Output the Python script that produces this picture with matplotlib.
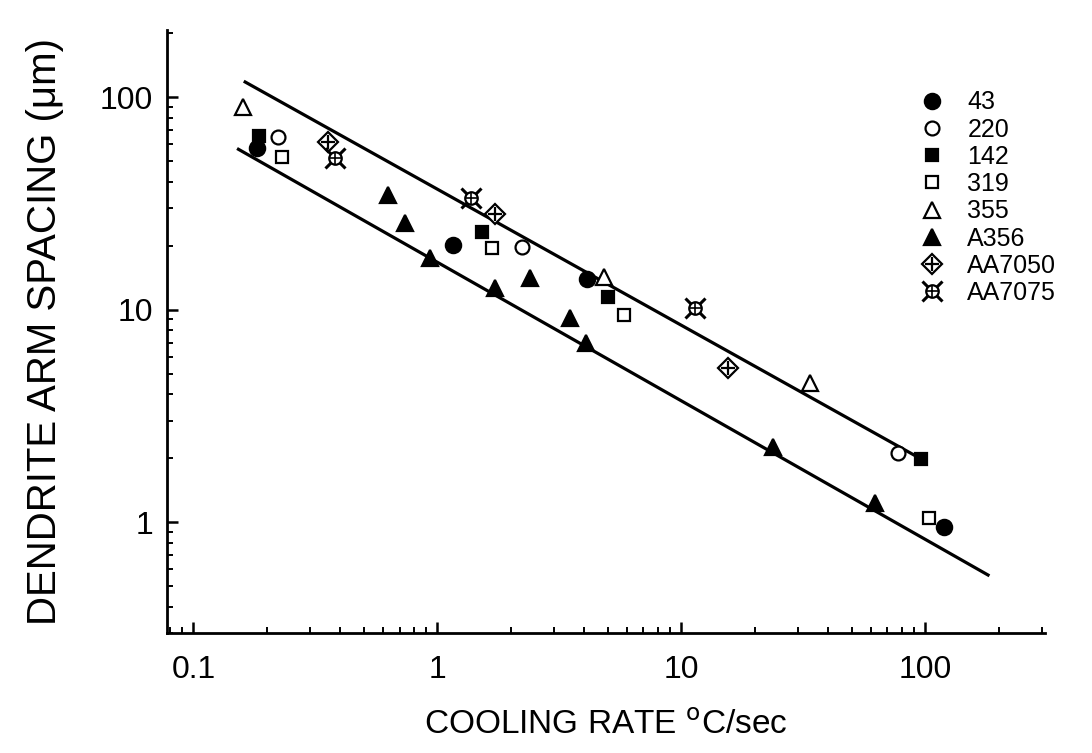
#!/usr/bin/env python
"""Dendrite arm spacing vs cooling rate (log-log)"""
import numpy as np
import matplotlib
matplotlib.use('Agg')
import matplotlib.pyplot as plt
from matplotlib.ticker import LogLocator, NullFormatter, FixedLocator, FixedFormatter

plt.rcParams['font.family'] = ['Liberation Sans', 'DejaVu Sans']

# ---- data (cooling rate degC/s, DAS um) ----
x_43 = [0.183, 1.16, 4.1, 119]
y_43 = [57.5, 20.1, 13.9, 0.95]

x_220 = [0.223, 2.23, 77.5]
y_220 = [64.7, 19.7, 2.11]

x_142 = [0.185, 1.53, 5.0, 96]
y_142 = [66, 23.2, 11.5, 1.98]

x_319 = [0.23, 1.68, 5.8, 104]
y_319 = [52.2, 19.5, 9.4, 1.05]

x_355 = [0.16, 4.8, 33.8]
y_355 = [89.7, 14.2, 4.5]

x_a356 = [0.63, 0.74, 0.935, 1.73, 2.4, 3.5, 4.05, 23.8, 62]
y_a356 = [34.6, 25.5, 17.5, 12.6, 14.1, 9.1, 7.0, 2.26, 1.23]

x_7050 = [0.357, 1.73, 15.6]
y_7050 = [61.4, 28.1, 5.3]

x_7075 = [0.38, 1.37, 11.4]
y_7075 = [52, 33.5, 10.2]

# bounding lines (end points)
upper_x = [0.163, 95]
upper_y = [118, 2.0]
lower_x = [0.153, 181]
lower_y = [56.9, 0.564]

# ---- plot ----
fig = plt.figure(figsize=(10.92, 7.53), dpi=100)
ax = fig.add_axes([0.153, 0.159, 0.804, 0.801])

ax.plot(upper_x, upper_y, color='black', lw=2.3)
ax.plot(lower_x, lower_y, color='black', lw=2.3)

ms = 10
mew = 1.6
h43, = ax.plot(x_43, y_43, 'o', ms=ms + 1, mfc='black', mec='black', mew=mew, ls='none')
h220, = ax.plot(x_220, y_220, 'o', ms=ms, mfc='white', mec='black', mew=mew, ls='none')
h142, = ax.plot(x_142, y_142, 's', ms=ms - 1, mfc='black', mec='black', mew=mew, ls='none')
h319, = ax.plot(x_319, y_319, 's', ms=ms - 1, mfc='white', mec='black', mew=mew, ls='none')
h355, = ax.plot(x_355, y_355, '^', ms=ms + 1, mfc='white', mec='black', mew=mew, ls='none')
ha356, = ax.plot(x_a356, y_a356, '^', ms=ms + 2, mfc='black', mec='black', mew=mew, ls='none')
h7050a, = ax.plot(x_7050, y_7050, 'D', ms=ms, mfc='white', mec='black', mew=mew, ls='none')
h7050b, = ax.plot(x_7050, y_7050, '+', ms=ms, mec='black', mew=mew, ls='none')
h7075a, = ax.plot(x_7075, y_7075, 'x', ms=ms + 5, mec='black', mew=mew + 0.6, ls='none')
h7075b, = ax.plot(x_7075, y_7075, 'o', ms=ms - 1, mfc='white', mec='black', mew=mew, ls='none')
h7075c, = ax.plot(x_7075, y_7075, '+', ms=ms - 2, mec='black', mew=mew - 0.4, ls='none')

ax.set_xscale('log')
ax.set_yscale('log')
ax.set_xlim(0.078, 310)
ax.set_ylim(0.30, 207)

ax.xaxis.set_major_locator(FixedLocator([0.1, 1, 10, 100]))
ax.xaxis.set_major_formatter(FixedFormatter(['0.1', '1', '10', '100']))
ax.yaxis.set_major_locator(FixedLocator([1, 10, 100]))
ax.yaxis.set_major_formatter(FixedFormatter(['1', '10', '100']))
for axis in (ax.xaxis, ax.yaxis):
    axis.set_minor_locator(LogLocator(base=10, subs=np.arange(2, 10)))
    axis.set_minor_formatter(NullFormatter())

ax.spines['top'].set_visible(False)
ax.spines['right'].set_visible(False)
for s in ('left', 'bottom'):
    ax.spines[s].set_linewidth(2.0)
ax.tick_params(which='major', direction='in', length=8, width=1.8, labelsize=23)
ax.tick_params(axis='x', which='major', pad=16)
ax.tick_params(axis='y', which='major', pad=10)
ax.tick_params(which='minor', direction='in', length=4, width=1.4)

ax.set_xlabel('COOLING RATE $^{\\rm o}$C/sec', fontsize=24, labelpad=18)
ax.set_ylabel('DENDRITE ARM SPACING (\u03bcm)', fontsize=29, labelpad=26)

handles = [h43, h220, h142, h319, h355, ha356, (h7050a, h7050b), (h7075a, h7075b, h7075c)]
labels = ['43', '220', '142', '319', '355', 'A356', 'AA7050', 'AA7075']
ax.legend(handles, labels, loc='upper right', bbox_to_anchor=(1.03, 0.925),
          frameon=False, fontsize=18, labelspacing=0.13, handletextpad=0.8,
          handlelength=1.2, borderaxespad=0.2)

plt.savefig('out.png', dpi=100)
plt.close()
